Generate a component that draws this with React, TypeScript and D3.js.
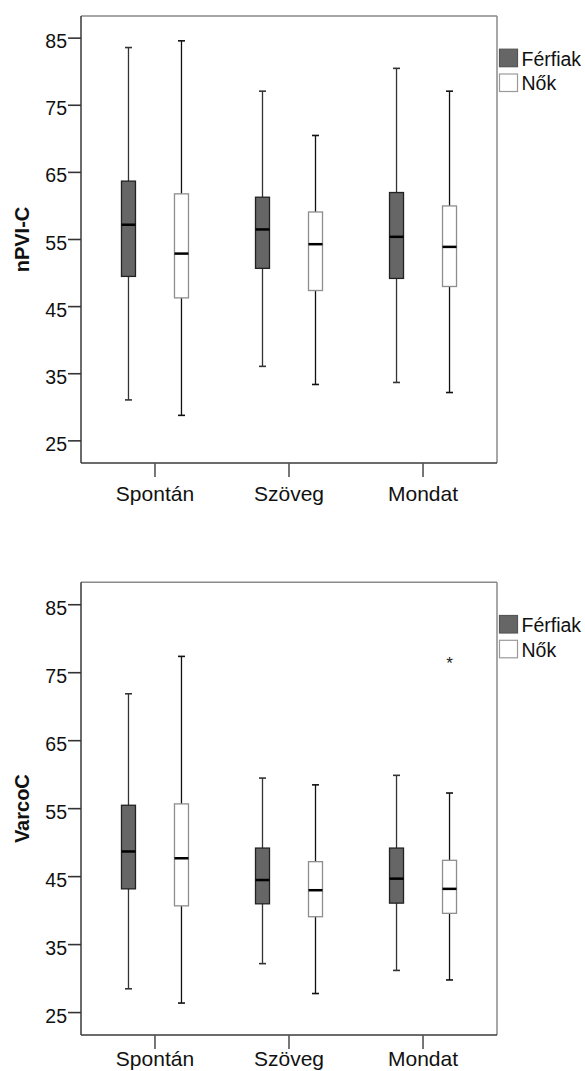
import React from "react";
import * as d3 from "d3";

// Categories, groups and axis ticks
const categories = ["Spontán", "Szöveg", "Mondat"];
const groups = ["Férfiak", "Nők"];
const yTicks = [25, 35, 45, 55, 65, 75, 85];

// Box-plot summaries per category: [min, q1, median, q3, max]
const nPviFerfiak = [
  [31.1, 49.5, 57.2, 63.7, 83.6],
  [36.1, 50.7, 56.5, 61.3, 77.1],
  [33.7, 49.2, 55.4, 62.0, 80.5],
];
const nPviNok = [
  [28.8, 46.3, 52.9, 61.8, 84.6],
  [33.4, 47.4, 54.3, 59.1, 70.5],
  [32.2, 48.0, 53.9, 60.0, 77.1],
];
const varcoFerfiak = [
  [28.5, 43.2, 48.7, 55.5, 71.9],
  [32.2, 41.0, 44.5, 49.2, 59.5],
  [31.2, 41.1, 44.7, 49.2, 59.9],
];
const varcoNok = [
  [26.4, 40.7, 47.7, 55.7, 77.4],
  [27.8, 39.1, 43.0, 47.2, 58.5],
  [29.8, 39.6, 43.2, 47.4, 57.3],
];
// Extreme values
const varcoOutlierCategory = ["Mondat"];
const varcoOutlierGroup = ["Nők"];
const varcoOutlierValue = [77.0];

const FONT = "'Liberation Sans', Arial, Helvetica, sans-serif";
const yDomain: [number, number] = [21.7, 88.3];

const groupStyle: Record<string, { fill: string; stroke: string; whisker: string }> = {
  "Férfiak": { fill: "#666666", stroke: "#222222", whisker: "#333333" },
  "Nők": { fill: "#ffffff", stroke: "#8e8e8e", whisker: "#111111" },
};

type Outlier = { category: string; group: string; value: number };

function Panel(props: {
  top: number;
  bottom: number;
  labelOffset: number;
  title: string;
  series: Record<string, number[][]>;
  outliers: Outlier[];
}) {
  const { top, bottom, labelOffset, title, series, outliers } = props;
  const left = 81;
  const right = 497;
  const y = d3.scaleLinear().domain(yDomain).range([bottom, top]);
  const x = d3.scalePoint<string>().domain(categories).range([left, right]).padding(0.552);
  const xSub = d3.scaleBand<string>().domain(groups).range([-53, 53]);
  const boxW = 14;
  const capW = 7;

  return (
    <g fontFamily={FONT}>
      {/* frame */}
      <line x1={left} x2={right} y1={top} y2={top} stroke="#8a8a8a" strokeWidth={1.5} />
      <line x1={right} x2={right} y1={top} y2={bottom} stroke="#8a8a8a" strokeWidth={1.5} />
      <line x1={left} x2={left} y1={top} y2={bottom} stroke="#3a3a3a" strokeWidth={1.5} />
      <line x1={left} x2={right} y1={bottom} y2={bottom} stroke="#3a3a3a" strokeWidth={1.5} />

      {/* y axis */}
      {yTicks.map((t) => (
        <g key={t}>
          <line x1={left - 13} x2={left} y1={y(t)} y2={y(t)} stroke="#333" strokeWidth={1.6} />
          <text x={left - 14} y={y(t) + 10} textAnchor="end" fontSize={19.5} fill="#111">
            {t}
          </text>
        </g>
      ))}
      <text
        transform={`translate(21.5, ${(top + bottom) / 2}) rotate(-90)`}
        textAnchor="middle"
        dy="0.35em"
        fontSize={20}
        fontWeight="bold"
        fill="#111"
      >
        {title}
      </text>

      {/* x axis */}
      {categories.map((c) => (
        <g key={c}>
          <line x1={x(c)} x2={x(c)} y1={bottom} y2={bottom + 14} stroke="#555" strokeWidth={1.6} />
          <text x={x(c)} y={bottom + labelOffset} textAnchor="middle" fontSize={21} fill="#111">
            {c}
          </text>
        </g>
      ))}

      {/* boxes */}
      {groups.map((g) =>
        categories.map((c, i) => {
          const [mn, q1, med, q3, mx] = series[g][i];
          const cx = (x(c) as number) + (xSub(g) as number) + xSub.bandwidth() / 2;
          const st = groupStyle[g];
          return (
            <g key={g + c}>
              <line x1={cx} x2={cx} y1={y(mx)} y2={y(q3)} stroke={st.whisker} strokeWidth={1.3} />
              <line x1={cx} x2={cx} y1={y(q1)} y2={y(mn)} stroke={st.whisker} strokeWidth={1.3} />
              <line x1={cx - capW / 2} x2={cx + capW / 2} y1={y(mx)} y2={y(mx)} stroke={st.whisker} strokeWidth={1.6} />
              <line x1={cx - capW / 2} x2={cx + capW / 2} y1={y(mn)} y2={y(mn)} stroke={st.whisker} strokeWidth={1.6} />
              <rect
                x={cx - boxW / 2}
                y={y(q3)}
                width={boxW}
                height={y(q1) - y(q3)}
                fill={st.fill}
                stroke={st.stroke}
                strokeWidth={1.3}
              />
              <line x1={cx - boxW / 2} x2={cx + boxW / 2} y1={y(med)} y2={y(med)} stroke="#000" strokeWidth={2.5} />
            </g>
          );
        })
      )}

      {/* extreme values */}
      {outliers.map((o, i) => {
        const cx = (x(o.category) as number) + (xSub(o.group) as number) + xSub.bandwidth() / 2;
        return (
          <text key={i} x={cx} y={y(o.value) + 9.5} textAnchor="middle" fontSize={17} fill="#222">
            *
          </text>
        );
      })}

      {/* legend */}
      {groups.map((g, i) => (
        <g key={g} transform={`translate(499, ${top + 32.7 + i * 24.8})`}>
          <rect x={0.5} y={0.5} width={18} height={17.5} fill={groupStyle[g].fill}
            stroke={g === "Férfiak" ? "#555" : "#9a9a9a"} strokeWidth={1.2} />
          <text x={22.5} y={16.8} fontSize={19.5} fill="#111">
            {g}
          </text>
        </g>
      ))}
    </g>
  );
}

export default function App() {
  const varcoOutliers: Outlier[] = varcoOutlierValue.map((v, i) => ({
    category: varcoOutlierCategory[i],
    group: varcoOutlierGroup[i],
    value: v,
  }));
  return (
    <div
      style={{
        position: "fixed",
        left: 0,
        top: 0,
        width: 585,
        height: 1071,
        overflow: "hidden",
        background: "#fff",
      }}
    >
      <svg width={585} height={1071} style={{ display: "block" }}>
        <rect width={585} height={1071} fill="#fff" />
        <Panel
          top={16}
          bottom={463}
          labelOffset={37.7}
          title="nPVI-C"
          series={{ "Férfiak": nPviFerfiak, "Nők": nPviNok }}
          outliers={[]}
        />
        <Panel
          top={582.3}
          bottom={1035}
          labelOffset={31}
          title="VarcoC"
          series={{ "Férfiak": varcoFerfiak, "Nők": varcoNok }}
          outliers={varcoOutliers}
        />
      </svg>
    </div>
  );
}
